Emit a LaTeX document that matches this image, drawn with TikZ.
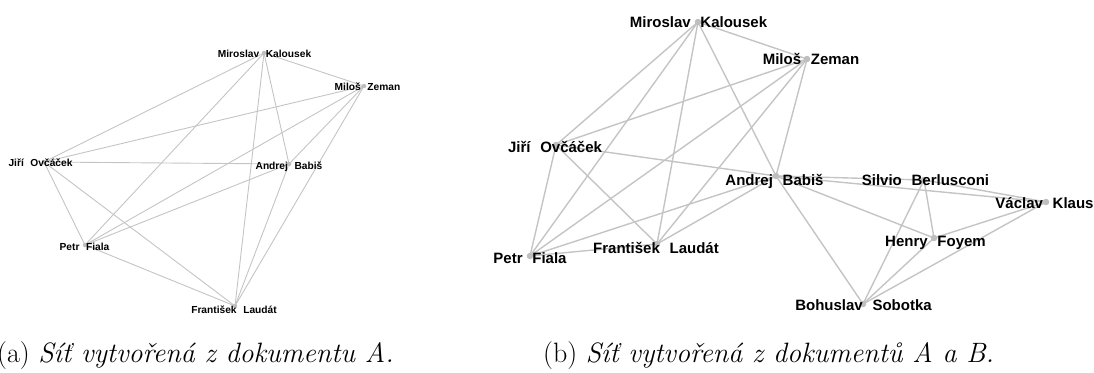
\documentclass[tikz,border=0pt]{standalone}
\usepackage{fontspec}
\newfontfamily\lblfont{Liberation Sans}
\definecolor{edgegray}{RGB}{196,196,196}
\definecolor{dotgray}{RGB}{190,190,190}
\newcommand\gp{\hspace{0.65em}}
\tikzset{
  edgeA/.style={draw=edgegray, line width=0.9pt},
  edgeB/.style={draw=edgegray, line width=1.4pt},
  dotA/.style={circle, fill=dotgray, inner sep=0pt, minimum size=4.5pt},
  dotB/.style={circle, fill=dotgray, inner sep=0pt, minimum size=6.5pt},
  lblA/.style={font=\lblfont\bfseries\fontsize{10.2}{12}\selectfont, inner sep=0pt, anchor=base},
  lblB/.style={font=\lblfont\bfseries\fontsize{15}{18}\selectfont, inner sep=0pt, anchor=base},
  capt/.style={font=\fontsize{28}{34}\selectfont, inner sep=0pt, anchor=base west},
}
\begin{document}
\begin{tikzpicture}[x=1pt,y=-1pt]
\useasboundingbox (0,0) rectangle (1094,372);
% ---------- graph (a) ----------
\coordinate (aMK) at (264,53);
\coordinate (aMZ) at (364,86);
\coordinate (aJO) at (44,162);
\coordinate (aAB) at (289,164);
\coordinate (aPF) at (85,245);
\coordinate (aFL) at (235,306);
\foreach \u/\v in {aMK/aJO,aMK/aPF,aMK/aFL,aMK/aAB,aMK/aMZ,
                   aMZ/aJO,aMZ/aPF,aMZ/aAB,aMZ/aFL,
                   aJO/aAB,aJO/aPF,aJO/aFL,
                   aPF/aAB,aPF/aFL,aAB/aFL}
  \draw[edgeA] (\u) -- (\v);
\foreach \n in {aMK,aMZ,aJO,aAB,aPF,aFL}
  \node[dotA] (\n d) at (\n) {};
\node[lblA] (aMKl) at (264.5,57.6) {Miroslav\gp Kalousek};
\node[lblA] (aMZl) at (367.5,90.6) {Miloš\gp Zeman};
\node[lblA] (aJOl) at (40.5,166.6) {Jiří\gp Ovčáček};
\node[lblA] (aABl) at (289,169.6) {Andrej\gp Babiš};
\node[lblA] (aPFl) at (84.5,250.6) {Petr\gp Fiala};
\node[lblA] (aFLl) at (234,313.6) {František\gp Laudát};
% ---------- graph (b) ----------
\coordinate (bMK) at (698,22);
\coordinate (bMZ) at (807,59);
\coordinate (bJO) at (556,145);
\coordinate (bAB) at (776,176);
\coordinate (bSB) at (924,180);
\coordinate (bVK) at (1046,202);
\coordinate (bHF) at (934,238);
\coordinate (bFL) at (657,244);
\coordinate (bPF) at (530,256);
\coordinate (bBS) at (863,304);
\foreach \u/\v in {bMK/bMZ,bMK/bJO,bMK/bPF,bMK/bFL,bMK/bAB,
                   bMZ/bJO,bMZ/bPF,bMZ/bFL,bMZ/bAB,
                   bJO/bAB,bJO/bPF,bJO/bFL,
                   bPF/bFL,bPF/bAB,bAB/bFL,
                   bAB/bSB,bAB/bVK,bAB/bHF,bAB/bBS,
                   bSB/bVK,bSB/bHF,bSB/bBS,
                   bVK/bHF,bVK/bBS,bHF/bBS}
  \draw[edgeB] (\u) -- (\v);
\foreach \n in {bMK,bMZ,bJO,bAB,bSB,bVK,bHF,bFL,bPF,bBS}
  \node[dotB] (\n d) at (\n) {};
\node[lblB] (bMKl) at (698.5,27.4) {Miroslav\gp Kalousek};
\node[lblB] (bMZl) at (811,64.4) {Miloš\gp Zeman};
\node[lblB] (bJOl) at (555,152.4) {Jiří\gp Ovčáček};
\node[lblB] (bABl) at (774.5,185.4) {Andrej\gp Babiš};
\node[lblB] (bSBl) at (925.5,185.4) {Silvio\gp Berlusconi};
\node[lblB] (bVKl) at (1044.5,208.4) {Václav\gp Klaus};
\node[lblB] (bHFl) at (935.5,246.4) {Henry\gp Foyem};
\node[lblB] (bFLl) at (656,253.4) {František\gp Laudát};
\node[lblB] (bPFl) at (530,263.4) {Petr\gp Fiala};
\node[lblB] (bBSl) at (863.5,310.4) {Bohuslav\gp Sobotka};
% ---------- captions ----------
\node[capt] (capA) at (-3,362) {(a) \textit{Síť vytvořená z dokumentu A.}};
\node[capt] (capB) at (543,362) {(b) \textit{Síť vytvořená z dokumentů A a B.}};
\end{tikzpicture}
\end{document}
